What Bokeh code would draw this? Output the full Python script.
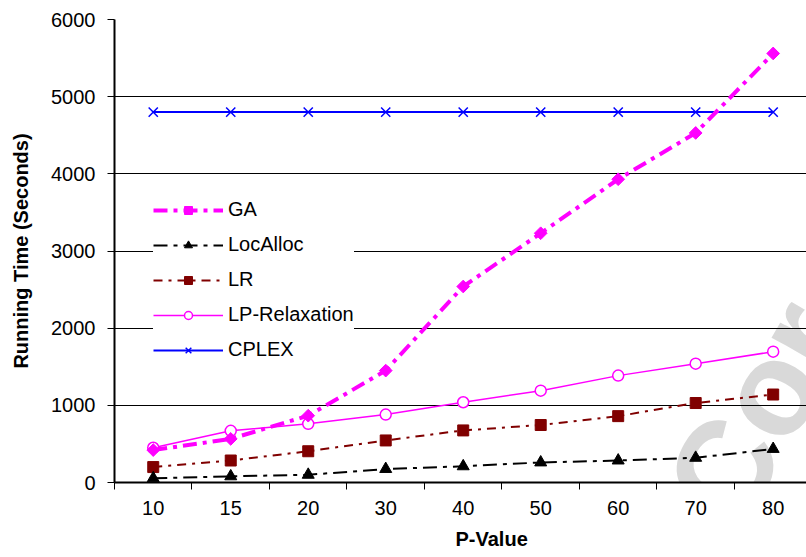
from bokeh.plotting import figure
from bokeh.models import Range1d, FixedTicker, Legend, LegendItem, Label, Title
from bokeh.embed import file_html
from bokeh.resources import INLINE

# ---- data ----
categories = ["10", "15", "20", "30", "40", "50", "60", "70", "80"]
ga = [420, 565, 866, 1450, 2540, 3230, 3930, 4530, 5560]
localloc = [55, 80, 100, 175, 210, 260, 285, 320, 435]
lr = [200, 285, 405, 545, 675, 745, 860, 1030, 1140]
lp_relax = [450, 670, 760, 880, 1040, 1190, 1385, 1540, 1695]
cplex = [4800, 4800, 4800, 4800, 4800, 4800, 4800, 4800, 4800]
y_ticks = [0, 1000, 2000, 3000, 4000, 5000, 6000]

xs = list(range(len(categories)))
FONT = "Liberation Sans"

p = figure(width=806, height=557,
           x_range=Range1d(-0.5, 8.43), y_range=Range1d(0, 6000),
           output_backend="svg", toolbar_location=None,
           min_border_left=114, min_border_right=0,
           min_border_top=19, min_border_bottom=74)
p.outline_line_color = None
p.background_fill_color = "white"
p.border_fill_color = "white"

# grid
p.xgrid.visible = False
p.ygrid.grid_line_color = "black"
p.ygrid.grid_line_width = 1
p.ygrid.ticker = FixedTicker(ticks=y_ticks)

# y axis
p.yaxis.ticker = FixedTicker(ticks=y_ticks)
p.yaxis.major_tick_out = 7
p.yaxis.major_tick_in = 0
p.yaxis.minor_tick_out = 0
p.yaxis.minor_tick_in = 0
p.yaxis.axis_line_width = 2
p.yaxis.axis_line_color = "black"
p.yaxis.major_tick_line_color = "black"
p.yaxis.major_label_text_font = FONT
p.yaxis.major_label_text_font_size = "20px"
p.yaxis.major_label_text_color = "black"
p.yaxis.major_label_standoff = 12
p.yaxis.axis_label = "Running Time (Seconds)"
p.yaxis.axis_label_standoff = 16
p.yaxis.axis_label_text_font = FONT
p.yaxis.axis_label_text_font_size = "20px"
p.yaxis.axis_label_text_font_style = "bold"
p.yaxis.axis_label_text_color = "black"

# x axis: labels at centres, tick marks at category boundaries
boundaries = [i - 0.5 for i in range(len(categories) + 1)]
p.xaxis.ticker = FixedTicker(ticks=xs, minor_ticks=boundaries)
p.xaxis.major_label_overrides = {i: c for i, c in enumerate(categories)}
p.xaxis.major_tick_out = 0
p.xaxis.major_tick_in = 0
p.xaxis.minor_tick_out = 7
p.xaxis.minor_tick_in = 0
p.xaxis.minor_tick_line_color = "black"
p.xaxis.minor_tick_line_width = 1
p.xaxis.axis_line_width = 2
p.xaxis.axis_line_color = "black"
p.xaxis.major_label_text_font = FONT
p.xaxis.major_label_text_font_size = "20px"
p.xaxis.major_label_text_color = "black"
p.xaxis.major_label_standoff = 11

# x axis title (off-centre, as in the reference)
p.add_layout(Title(text="P-Value", align="left", offset=341, standoff=16,
                   text_font=FONT, text_font_size="20px", text_font_style="bold",
                   text_color="black"), "below")

# watermark
p.add_layout(Label(x=7.05, y=-370, text="Cor", angle=60, angle_units="deg",
                   text_font=FONT, text_font_size="133px", text_font_style="bold",
                   text_color="#D9D9D9", text_align="left", text_baseline="middle",
                   level="image"))

# series
r_cp_l = p.line(xs, cplex, line_color="#0000FF", line_width=2)
r_cp_m = p.scatter(xs, cplex, marker="x", size=13, line_color="#0000FF", line_width=1.5)

r_lp_l = p.line(xs, lp_relax, line_color="#FF00FF", line_width=1.5)
r_lp_m = p.scatter(xs, lp_relax, marker="circle", size=11, line_color="#FF00FF",
                   fill_color="white", line_width=1.5)

r_lr_l = p.line(xs, lr, line_color="#800000", line_width=2, line_dash="9 6 3 6")
r_lr_m = p.scatter(xs, lr, marker="square", size=11, line_color="#800000", fill_color="#800000")

r_la_l = p.line(xs, localloc, line_color="black", line_width=2, line_dash="14 6 4 6")
r_la_m = p.scatter(xs, localloc, marker="triangle", size=12, line_color="black", fill_color="black")

r_ga_l = p.line(xs, ga, line_color="#FF00FF", line_width=4, line_dash="14 6 4 6")
r_ga_m = p.scatter(xs, ga, marker="square", angle=45, angle_units="deg", size=9,
                   line_color="#FF00FF", fill_color="#FF00FF")

legend = Legend(items=[
    LegendItem(label="GA", renderers=[r_ga_l, r_ga_m]),
    LegendItem(label="LocAlloc", renderers=[r_la_l, r_la_m]),
    LegendItem(label="LR", renderers=[r_lr_l, r_lr_m]),
    LegendItem(label="LP-Relaxation", renderers=[r_lp_l, r_lp_m]),
    LegendItem(label="CPLEX", renderers=[r_cp_l, r_cp_m]),
], location=(39, 121))
legend.padding = 20
legend.margin = 0
legend.spacing = 12
legend.glyph_width = 70
legend.glyph_height = 20
legend.label_height = 20
legend.label_standoff = 5
legend.label_text_font = FONT
legend.label_text_font_size = "20px"
legend.label_text_color = "black"
legend.border_line_color = None
legend.background_fill_color = "white"
legend.background_fill_alpha = 1
p.add_layout(legend)

open("out.html", "w").write(file_html(p, INLINE))
